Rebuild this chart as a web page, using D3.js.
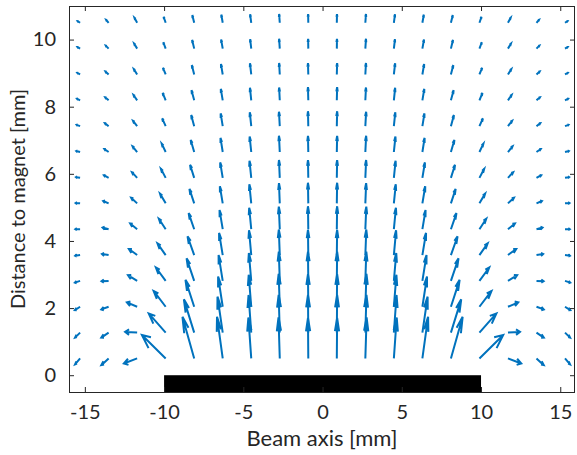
<!DOCTYPE html>
<html><head><meta charset="utf-8">
<script src="https://cdn.jsdelivr.net/npm/d3@7"></script>
<style>body{margin:0;background:#fff}svg{display:block}text{font-family:Lato,"Open Sans",sans-serif;fill:#262626}</style>
</head><body><svg id="c" width="577" height="455"></svg>
<script>
// grid positions (mm)
const xs = [-15.3,-13.5,-11.7,-9.9,-8.1,-6.3,-4.5,-2.7,-0.9,0.9,2.7,4.5,6.3,8.1,9.9,11.7,13.5,15.3];
const ys = [0.5,1.27,2.04,2.81,3.58,4.35,5.12,5.88,6.65,7.42,8.19,8.96,9.73,10.5];
// arrow x-components (rows bottom -> top)
const U = [
 [-.32,-.46,-.84,-1.50,-.74,-.36,-.18,-.08,-.02,.02,.08,.18,.36,.74,1.50,.84,.46,.32],
 [-.32,-.46,-.76,-1.07,-.65,-.33,-.17,-.07,-.02,.02,.07,.17,.33,.65,1.07,.76,.46,.32],
 [-.33,-.46,-.65,-.76,-.55,-.29,-.16,-.07,-.02,.02,.07,.16,.29,.55,.76,.65,.46,.33],
 [-.33,-.45,-.58,-.62,-.48,-.26,-.15,-.06,-.02,.02,.06,.15,.26,.48,.62,.58,.45,.33],
 [-.31,-.42,-.52,-.52,-.42,-.23,-.14,-.06,-.02,.02,.06,.14,.23,.42,.52,.52,.42,.31],
 [-.30,-.38,-.44,-.43,-.35,-.20,-.13,-.06,-.02,.02,.06,.13,.20,.35,.43,.44,.38,.30],
 [-.28,-.34,-.38,-.36,-.30,-.18,-.12,-.05,-.02,.02,.05,.12,.18,.30,.36,.38,.34,.28],
 [-.26,-.30,-.33,-.30,-.26,-.16,-.11,-.05,-.02,.02,.05,.11,.16,.26,.30,.33,.30,.26],
 [-.24,-.27,-.29,-.25,-.22,-.14,-.10,-.05,-.02,.02,.05,.10,.14,.22,.25,.29,.27,.24],
 [-.22,-.24,-.26,-.22,-.19,-.13,-.09,-.05,-.02,.02,.05,.09,.13,.19,.22,.26,.24,.22],
 [-.20,-.22,-.23,-.19,-.17,-.12,-.08,-.04,-.02,.02,.04,.08,.12,.17,.19,.23,.22,.20],
 [-.18,-.20,-.21,-.17,-.15,-.11,-.08,-.04,-.02,.02,.04,.08,.11,.15,.17,.21,.20,.18],
 [-.17,-.18,-.19,-.15,-.13,-.10,-.07,-.04,-.01,.01,.04,.07,.10,.13,.15,.19,.18,.17],
 [-.16,-.16,-.17,-.13,-.12,-.09,-.07,-.04,-.01,.01,.04,.07,.09,.12,.13,.17,.16,.16]
];
// arrow y-components (rows bottom -> top)
const V = [
 [-.18,-.20,-.15,.70,1.24,1.24,1.22,1.22,1.21,1.21,1.22,1.22,1.24,1.24,.70,-.15,-.20,-.18],
 [-.15,-.15,.02,.57,.99,1.07,1.12,1.12,1.12,1.12,1.12,1.12,1.07,.99,.57,.02,-.15,-.15],
 [-.10,-.08,.13,.47,.80,.90,.95,.98,.97,.97,.98,.95,.90,.80,.47,.13,-.08,-.10],
 [-.05,-.01,.17,.40,.67,.77,.83,.87,.87,.87,.87,.83,.77,.67,.40,.17,-.01,-.05],
 [-.02,.03,.18,.35,.56,.66,.74,.76,.75,.75,.76,.74,.66,.56,.35,.18,.03,-.02],
 [.00,.05,.17,.31,.48,.57,.64,.67,.68,.68,.67,.64,.57,.48,.31,.17,.05,.00],
 [.01,.07,.17,.29,.43,.51,.57,.60,.61,.61,.60,.57,.51,.43,.29,.17,.07,.01],
 [.02,.08,.17,.27,.39,.46,.51,.53,.53,.53,.53,.51,.46,.39,.27,.17,.08,.02],
 [.03,.09,.17,.25,.36,.42,.46,.48,.48,.48,.48,.46,.42,.36,.25,.17,.09,.03],
 [.04,.09,.16,.23,.33,.38,.41,.43,.44,.44,.43,.41,.38,.33,.23,.16,.09,.04],
 [.05,.09,.16,.22,.30,.34,.37,.38,.39,.39,.38,.37,.34,.30,.22,.16,.09,.05],
 [.05,.09,.16,.20,.28,.31,.33,.34,.34,.34,.34,.33,.31,.28,.20,.16,.09,.05],
 [.05,.09,.15,.19,.26,.27,.28,.29,.29,.29,.29,.28,.27,.26,.19,.15,.09,.05],
 [.05,.09,.15,.18,.23,.24,.25,.26,.26,.26,.26,.25,.24,.23,.18,.15,.09,.05]
];
const xTicks = [-15,-10,-5,0,5,10,15];
const yTicks = [0,2,4,6,8,10];
const magnet = {x0:-10, x1:10, top:0};
const xDomain = [-16, 15.93];
const yDomain = [-0.5, 11];
const xLabel = "Beam axis [mm]";
const yLabel = "Distance to magnet [mm]";

const L = 69, R = 575, T = 6, B = 392;
const x = d3.scaleLinear().domain(xDomain).range([L, R]);
const y = d3.scaleLinear().domain(yDomain).range([B, T]);
const svg = d3.select("#c");
const axisCol = "#262626";
const fmt = d => String(d); // plain hyphen-minus like the reference

// magnet
svg.append("rect")
  .attr("x", x(magnet.x0)).attr("y", y(magnet.top))
  .attr("width", x(magnet.x1) - x(magnet.x0))
  .attr("height", y(yDomain[0]) - y(magnet.top))
  .attr("fill", "#000");

// arrows
const alpha = 0.33, beta = 0.33;
const arrows = [];
ys.forEach((yy, r) => xs.forEach((xx, c) => arrows.push({x: xx, y: yy, u: U[r][c], v: V[r][c]})));
const g = svg.append("g");
g.selectAll("path").data(arrows).join("path")
  .attr("d", d => {
    const tx = d.x + d.u, ty = d.y + d.v;
    const h1x = tx - alpha * (d.u + beta * d.v), h1y = ty - alpha * (d.v - beta * d.u);
    const h2x = tx - alpha * (d.u - beta * d.v), h2y = ty - alpha * (d.v + beta * d.u);
    return `M${x(d.x)},${y(d.y)}L${x(tx)},${y(ty)}M${x(h1x)},${y(h1y)}L${x(tx)},${y(ty)}L${x(h2x)},${y(h2y)}`;
  })
  .attr("fill", "none").attr("stroke", "#0072BD").attr("stroke-width", 2)
  .attr("stroke-linejoin", "miter");

// axes box
const tl = 5;
const xb = svg.append("g").attr("transform", `translate(0,${B})`)
  .call(d3.axisBottom(x).tickValues(xTicks).tickSize(-tl).tickPadding(tl + 8).tickFormat(fmt));
const xt = svg.append("g").attr("transform", `translate(0,${T})`)
  .call(d3.axisTop(x).tickValues(xTicks).tickSize(-tl).tickFormat(""));
const yl = svg.append("g").attr("transform", `translate(${L},0)`)
  .call(d3.axisLeft(y).tickValues(yTicks).tickSize(-tl).tickPadding(tl + 8).tickFormat(fmt));
const yr = svg.append("g").attr("transform", `translate(${R},0)`)
  .call(d3.axisRight(y).tickValues(yTicks).tickSize(-tl).tickFormat(""));
[xb, xt, yl, yr].forEach(a => {
  a.select(".domain").remove();
  a.selectAll(".tick line").attr("stroke", axisCol).attr("stroke-width", 1);
  a.selectAll("text").attr("font-size", 20).attr("fill", axisCol).style("font-family", "Lato, sans-serif");
});
svg.append("rect").attr("x", L + 0.5).attr("y", T + 0.5).attr("width", R - L - 1).attr("height", B - T)
  .attr("fill", "none").attr("stroke", axisCol).attr("stroke-width", 1);

svg.append("text").attr("x", (L + R) / 2).attr("y", 446).attr("text-anchor", "middle")
  .attr("font-size", 22).text(xLabel);
svg.append("text").attr("transform", `translate(25,${(T + B) / 2}) rotate(-90)`).attr("text-anchor", "middle")
  .attr("font-size", 20).text(yLabel);
</script></body></html>
